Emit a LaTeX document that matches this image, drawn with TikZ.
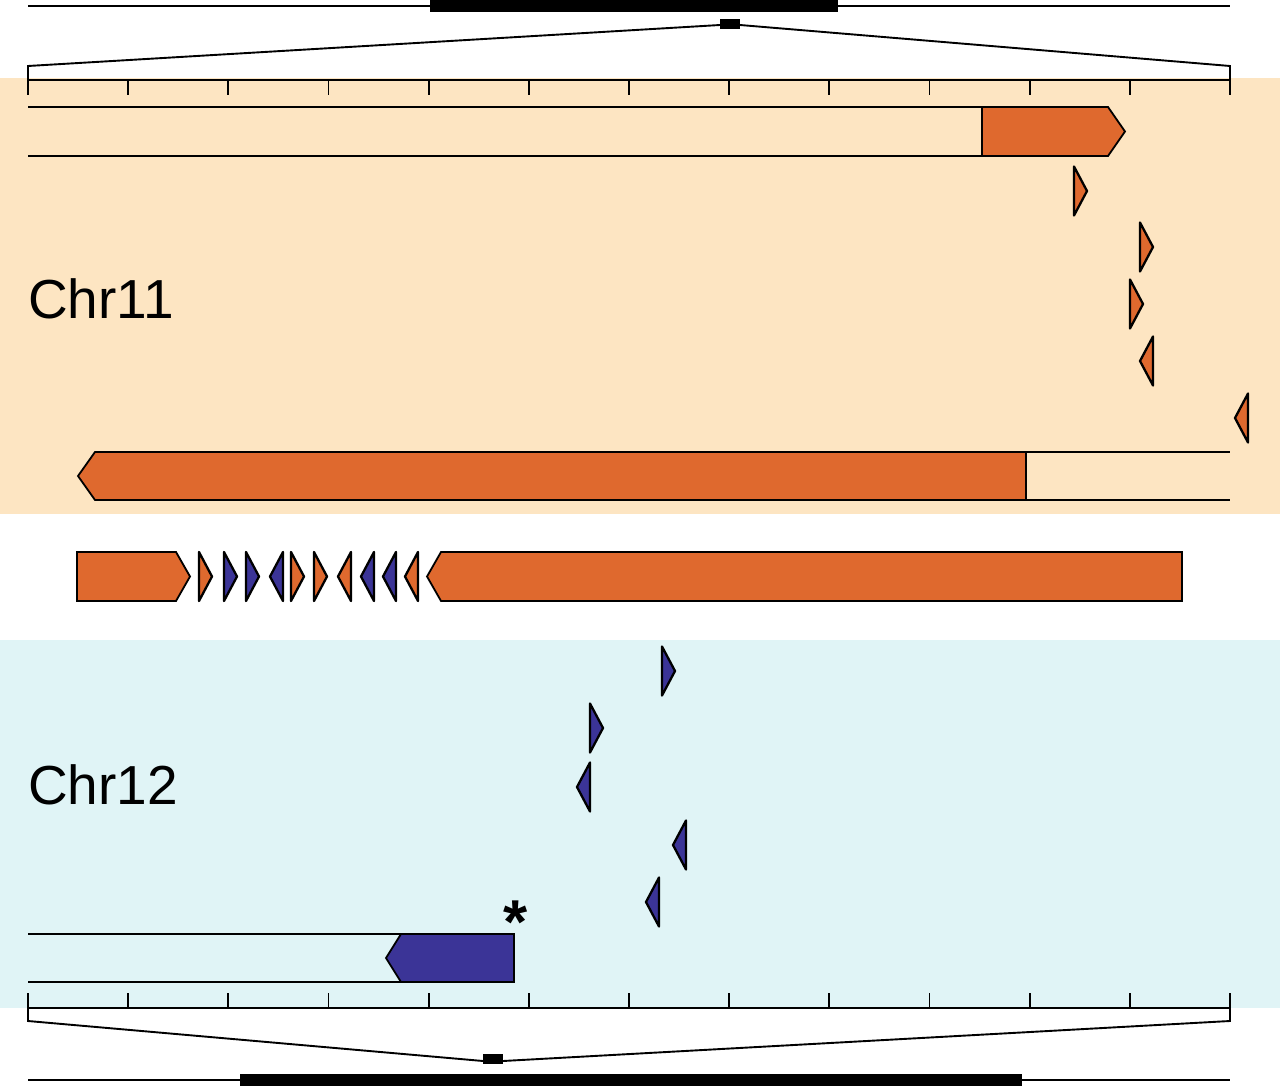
\documentclass[tikz,border=0pt]{standalone}
\usepackage{fontspec}
\setmainfont{Liberation Sans}
\usetikzlibrary{positioning}
\definecolor{geneorange}{HTML}{DF692E}
\definecolor{geneblue}{HTML}{3B3497}
\definecolor{elevenbg}{HTML}{FDE5C2}
\definecolor{twelvebg}{HTML}{E0F4F6}

% small gene triangle: base x, centre y, direction (1 right, -1 left), colour
\newcommand{\genetri}[4]{%
  \draw[tri, fill=#4] (#1,#2-24.5) -- ++(#3*13,24.5) -- (#1,#2+24.5) -- cycle;}

\begin{document}
\begin{tikzpicture}[x=1pt, y=-1pt]
% STYLES
\tikzset{
    tri/.style={draw, line width=2.3pt, line join=round},
    gene/.style={draw, line width=1.8pt, line join=miter},
    thinline/.style={line width=1.9pt},
    chrlabel/.style={anchor=base west, inner sep=0pt, font=\fontsize{55}{60}\selectfont}
}
\useasboundingbox (0,0) rectangle (1280,1086);

% background bands
\fill[elevenbg] (0,78) rectangle (1280,514);
\fill[twelvebg] (0,640) rectangle (1280,1008);

% top chromosome and zoom lines
\draw[thinline] (28,6) -- (1230,6);
\fill (430,0) rectangle (838,12);
\fill (720,19) rectangle (740,29);
\draw[thinline] (720,25) -- (28,66) -- (28,80);
\draw[thinline] (740,25) -- (1230,66) -- (1230,80);
\draw[thinline] (28,80) -- (1230,80);
\foreach \i in {0,...,12}
  \draw[thinline] (28+\i*100.17,80) -- ++(0,15);

% Chr11 upper gene
\draw[thinline] (28,107) -- (982,107);
\draw[thinline] (28,156) -- (982,156);
\draw[gene, fill=geneorange] (982,107) -- (1108,107) -- (1125,131.5) -- (1108,156) -- (982,156) -- cycle;

% Chr11 small genes
\genetri{1074}{191}{1}{geneorange}
\genetri{1140}{247}{1}{geneorange}
\genetri{1130}{304}{1}{geneorange}
\genetri{1153}{361}{-1}{geneorange}
\genetri{1248}{418}{-1}{geneorange}

\node[chrlabel] (chr11) at (28,318) {Chr11};

% Chr11 lower gene
\draw[thinline] (1026,452) -- (1230,452);
\draw[thinline] (1026,500) -- (1230,500);
\draw[gene, fill=geneorange] (1026,452) -- (95,452) -- (78,476) -- (95,500) -- (1026,500) -- cycle;

% merged row
\draw[gene, fill=geneorange] (77,552) -- (176,552) -- (190,576.5) -- (176,601) -- (77,601) -- cycle;
\genetri{199}{576.5}{1}{geneorange}
\genetri{224}{576.5}{1}{geneblue}
\genetri{246}{576.5}{1}{geneblue}
\genetri{283}{576.5}{-1}{geneblue}
\genetri{291}{576.5}{1}{geneorange}
\genetri{314}{576.5}{1}{geneorange}
\genetri{351}{576.5}{-1}{geneorange}
\genetri{374}{576.5}{-1}{geneblue}
\genetri{396}{576.5}{-1}{geneblue}
\genetri{418}{576.5}{-1}{geneorange}
\draw[gene, fill=geneorange] (1182,552) -- (441,552) -- (427,576.5) -- (441,601) -- (1182,601) -- cycle;

% Chr12 small genes
\genetri{662}{671}{1}{geneblue}
\genetri{590}{728}{1}{geneblue}
\genetri{590}{787}{-1}{geneblue}
\genetri{686}{845}{-1}{geneblue}
\genetri{659}{902}{-1}{geneblue}

\node[chrlabel] (chr12) at (28,804) {Chr12};

% Chr12 gene
\draw[thinline] (28,934) -- (402,934);
\draw[thinline] (28,982) -- (402,982);
\draw[gene, fill=geneblue] (514,934) -- (401,934) -- (386,958) -- (401,982) -- (514,982) -- cycle;
\node[font=\fontsize{62}{62}\selectfont\bfseries, inner sep=0pt, anchor=north] (star) at (516,901) {*};

% bottom scale and chromosome
\draw[thinline] (28,1008) -- (1230,1008);
\foreach \i in {0,...,12}
  \draw[thinline] (28+\i*100.17,1008) -- ++(0,-15);
\draw[thinline] (28,1008) -- (28,1021) -- (483,1061);
\draw[thinline] (1230,1008) -- (1230,1021) -- (503,1061);
\fill (483,1054) rectangle (503,1064);
\draw[thinline] (28,1080) -- (1230,1080);
\fill (240,1074) rectangle (1022,1086);
\end{tikzpicture}
\end{document}
